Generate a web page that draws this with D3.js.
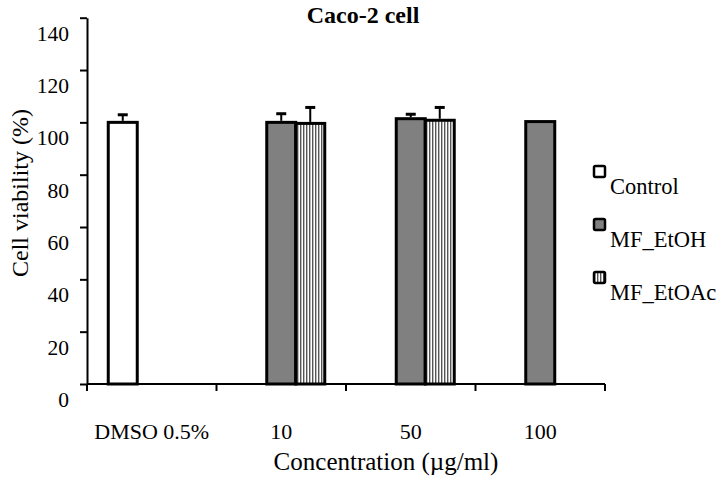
<!DOCTYPE html>
<html><head><meta charset="utf-8">
<script src="https://cdn.jsdelivr.net/npm/d3@7"></script>
<style>body{margin:0;background:#fff}svg{display:block}text{font-family:"Liberation Serif","Times New Roman",serif;fill:#000}</style>
</head><body><svg id="c" width="724" height="488"></svg>
<script>
const categories = ["DMSO 0.5%", "10", "50", "100"];
const seriesNames = ["Control", "MF_EtOH", "MF_EtOAc"];
const controlValues = [100, null, null, null];
const controlErrors = [2.9, null, null, null];
const etohValues = [null, 100.0, 101.4, 100.3];
const etohErrors = [null, 3.3, 1.7, 0];
const etoacValues = [null, 99.6, 100.8, null];
const etoacErrors = [null, 6.1, 4.9, null];
const yTicks = [0, 20, 40, 60, 80, 100, 120, 140];

(function(){
const svg = d3.select("#c");
const defs = svg.append("defs");
const pat = defs.append("pattern").attr("id","stripes").attr("patternUnits","userSpaceOnUse")
  .attr("width",3).attr("height",10);
pat.append("rect").attr("width",3).attr("height",10).attr("fill","#fff");
pat.append("rect").attr("x",0).attr("width",1.4).attr("height",10).attr("fill","#555");

const mLeft = 87, mRight = 605, mTop = 17.7, mBottom = 384;
const x = d3.scaleBand().domain(categories).range([mLeft, mRight]).paddingInner(0).paddingOuter(0);
const y = d3.scaleLinear().domain([0, 140]).range([mBottom, mTop]);
const barW = 29;
const xs = d3.scaleBand().domain(seriesNames).range([0, barW*3]);

const series = [
  {name:"Control", vals:controlValues, errs:controlErrors, fill:"#fff"},
  {name:"MF_EtOH", vals:etohValues, errs:etohErrors, fill:"#808080"},
  {name:"MF_EtOAc", vals:etoacValues, errs:etoacErrors, fill:"url(#stripes)"}
];

const yAxis = svg.append("g").attr("transform",`translate(${mLeft},0)`)
  .call(d3.axisLeft(y).tickValues(yTicks).tickSize(7).tickSizeOuter(0));
yAxis.select(".domain").attr("stroke","#000").attr("stroke-width",2);
yAxis.selectAll(".tick line").attr("stroke","#000").attr("stroke-width",2);
yAxis.selectAll(".tick text").attr("font-size",21.5).attr("x",-18).attr("y",22.5).attr("dy","0")
  .attr("fill","#000").style("font-family","Liberation Serif");

series.forEach(s => {
  const g = svg.append("g");
  categories.forEach((c,i) => {
    const v = s.vals[i];
    if (v == null) return;
    const gx = x(c) + x.bandwidth()/2 - barW*1.5 + xs(s.name);
    g.append("rect").attr("x", gx).attr("y", y(v)).attr("width", barW).attr("height", y(0)-y(v))
      .attr("fill", s.fill).attr("stroke","#000").attr("stroke-width",3);
    const e = s.errs[i];
    if (e) {
      const cx = gx + barW/2;
      g.append("line").attr("x1",cx).attr("x2",cx).attr("y1",y(v)-1.5).attr("y2",y(v+e))
        .attr("stroke","#000").attr("stroke-width",2);
      g.append("line").attr("x1",cx-5).attr("x2",cx+5).attr("y1",y(v+e)).attr("y2",y(v+e))
        .attr("stroke","#000").attr("stroke-width",3);
    }
  });
});

const xAxisG = svg.append("g").attr("transform",`translate(0,${mBottom})`);
xAxisG.append("line").attr("x1",mLeft).attr("x2",mRight).attr("stroke","#000").attr("stroke-width",2);
const bounds = categories.map(c => x(c)).concat([mRight]);
xAxisG.selectAll("line.tk").data(bounds).join("line").attr("class","tk")
  .attr("x1",d=>d).attr("x2",d=>d).attr("y1",0).attr("y2",7).attr("stroke","#000").attr("stroke-width",2);
xAxisG.selectAll("text").data(categories).join("text")
  .attr("x",d=>x(d)+x.bandwidth()/2).attr("y",55).attr("text-anchor","middle").attr("font-size",22).text(d=>d);

svg.append("text").attr("x",363).attr("y",23).attr("text-anchor","middle").attr("font-size",24)
  .attr("font-weight","bold").text("Caco-2 cell");
svg.append("text").attr("transform","translate(28,193) rotate(-90)").attr("text-anchor","middle")
  .attr("font-size",24).text("Cell viability (%)");
svg.append("text").attr("x",386).attr("y",470).attr("text-anchor","middle").attr("font-size",25)
  .text("Concentration (µg/ml)");

const leg = svg.append("g");
series.forEach((s,i) => {
  const ly = 166 + i*53;
  leg.append("rect").attr("x",594).attr("y",ly).attr("width",11).attr("height",11)
    .attr("fill",s.fill).attr("stroke","#000").attr("stroke-width",2.5).attr("rx",1.5);
  leg.append("text").attr("x",610).attr("y",ly+27.5).attr("font-size",22.5).text(s.name);
});
})();
</script></body></html>
